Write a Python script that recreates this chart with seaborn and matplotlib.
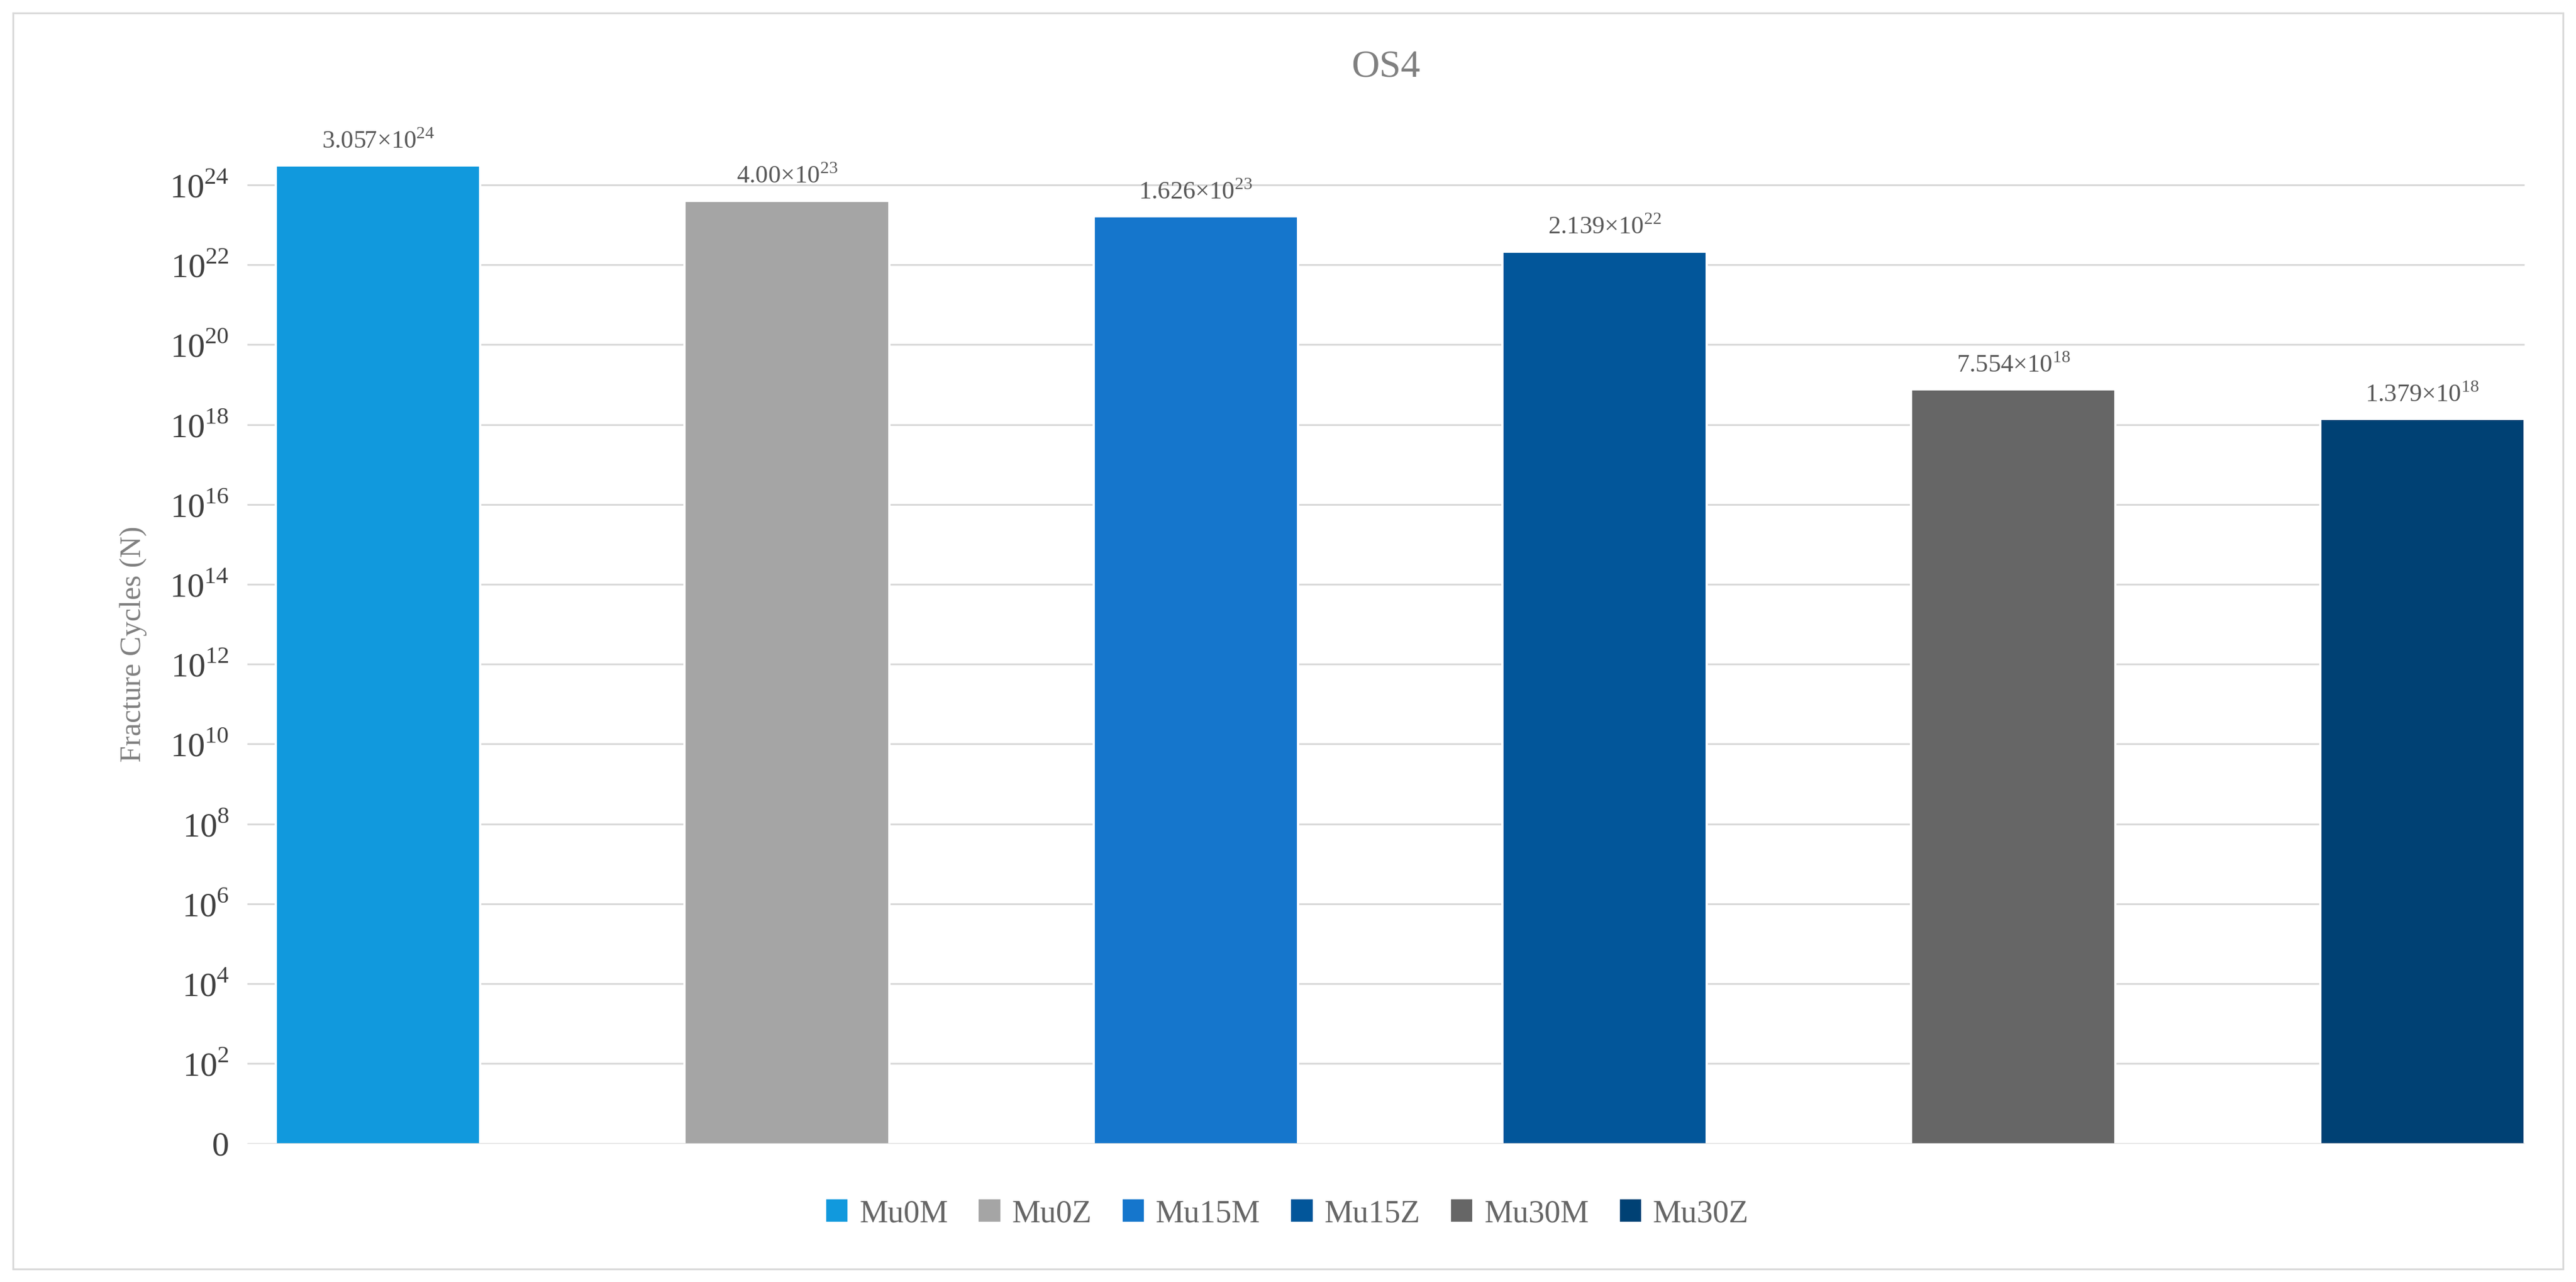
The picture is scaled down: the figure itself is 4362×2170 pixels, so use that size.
import matplotlib
matplotlib.use("Agg")
import matplotlib.pyplot as plt
import seaborn as sns
import pandas as pd
from matplotlib.patches import Rectangle

categories = ["Mu0M", "Mu0Z", "Mu15M", "Mu15Z", "Mu30M", "Mu30Z"]
values = [3.057e24, 4.00e23, 1.626e23, 2.139e22, 7.554e18, 1.379e18]
labels = ["3.057×10$^{24}$", "4.00×10$^{23}$", "1.626×10$^{23}$",
          "2.139×10$^{22}$", "7.554×10$^{18}$", "1.379×10$^{18}$"]
colors = ["#1199DD", "#A5A5A5", "#1576CC", "#02569A", "#666666", "#004174"]
tick_exps = list(range(0, 25, 2))

sns.set_theme(style="white")
plt.rcParams['font.family'] = ['Liberation Serif', 'DejaVu Serif']
plt.rcParams['mathtext.fontset'] = 'custom'
plt.rcParams['mathtext.rm'] = 'Liberation Serif'

dpi = 278.2
fig = plt.figure(figsize=(4362/dpi, 2170/dpi), dpi=dpi)
ax = fig.add_axes([0.096, 0.108, 0.884, 0.779])
ax.set_yscale("log")
df = pd.DataFrame({"cat": categories, "val": values})
sns.barplot(data=df, x="cat", y="val", hue="cat", palette=colors, width=0.5,
            ax=ax, legend=False, saturation=1, zorder=3)
ax.set_ylim(1, 1e25)
ax.set_xlim(-0.32, 5.25)
ax.set_yticks([10.0**e for e in tick_exps])
ax.set_yticklabels(["0"] + [f"10$^{{{e}}}$" for e in tick_exps[1:]], fontsize=15, color="#404040")
ax.minorticks_off()
ax.tick_params(axis="y", length=0, pad=8)
ax.set_xticks([])
ax.set_xlabel("")
ax.set_ylabel("Fracture Cycles (N)", fontsize=13, color="#808080", labelpad=10)
ax.grid(axis="y", color="#D9D9D9", lw=0.8, zorder=0)
for s in ax.spines.values():
    s.set_visible(False)
ax.axhline(1, color="#D9D9D9", lw=0.8, zorder=4)
for i, (v, l) in enumerate(zip(values, labels)):
    ax.text(i, v * 2.0, l, ha="center", va="bottom", fontsize=11, color="#595959")
ax.set_title("OS4", fontsize=17, color="#808080", pad=30)
handles = [Rectangle((0, 0), 1, 1, color=c) for c in colors]
fig.legend(handles, categories, loc="center", bbox_to_anchor=(0.5, 0.053), ncol=6,
           frameon=False, fontsize=14, handlelength=0.6, handleheight=0.6,
           columnspacing=1.0, handletextpad=0.4, labelcolor="#666666")
fig.patches.append(Rectangle((0.005, 0.01), 0.99, 0.98, transform=fig.transFigure,
                             fill=False, edgecolor="#D9D9D9", lw=0.8))
fig.savefig("out.png", dpi=dpi)
